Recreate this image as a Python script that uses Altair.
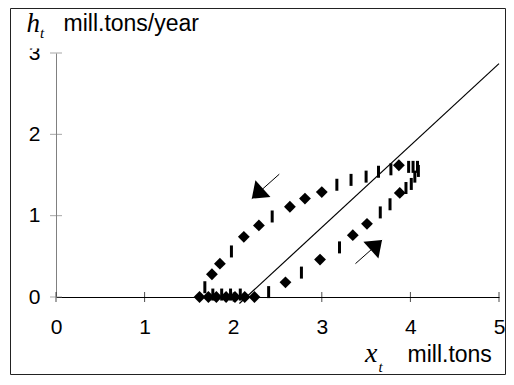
import altair as alt
import pandas as pd

# ---- data ----
diamond_x = [1.62, 1.72, 1.81, 1.92, 2.02, 2.13, 2.24, 2.59, 2.98, 3.35, 3.51, 3.88,
             3.87, 3.00, 2.81, 2.64, 2.29, 2.12, 1.85, 1.76]
diamond_y = [0.00, 0.00, 0.00, 0.00, 0.00, 0.00, 0.00, 0.18, 0.46, 0.76, 0.90, 1.28,
             1.62, 1.29, 1.21, 1.11, 0.88, 0.74, 0.41, 0.28]

dash_x = [1.68, 1.77, 1.87, 1.97, 2.08, 2.40, 2.77, 3.20, 3.66, 3.77, 3.95, 4.01, 4.05,
          4.09, 4.08, 4.03, 3.98, 3.78, 3.64, 3.50, 3.33, 3.17, 2.44, 1.98]
dash_y = [0.12, 0.03, 0.03, 0.03, 0.03, 0.06, 0.30, 0.61, 1.04, 1.14, 1.34, 1.39, 1.48,
          1.55, 1.60, 1.60, 1.60, 1.57, 1.54, 1.48, 1.44, 1.38, 0.99, 0.56]

line_x = [2.07, 5.00]
line_y = [-0.08, 2.87]

arrow_tail_x = [3.38, 2.52]
arrow_tail_y = [0.41, 1.51]
arrow_tip_x = [3.68, 2.21]
arrow_tip_y = [0.70, 1.21]
arrow_angle = [48, 228]

x_ticks = [0, 1, 2, 3, 4, 5]
y_ticks = [0, 1, 2, 3]

# ---- chart ----
W, H = 443, 244
SANS = "Liberation Sans"
SERIF = "Liberation Serif"

xs = alt.Scale(domain=[0, 5], nice=False, zero=False)
ys = alt.Scale(domain=[0, 3], nice=False, zero=False)

x_axis = alt.Axis(values=x_ticks, ticks=False, tickSize=0, grid=False, domainColor="black",
                  domainWidth=1, labelFont=SANS, labelFontSize=21, labelColor="black",
                  labelPadding=19, labelFlush=False, title=None, format="d")
y_axis = alt.Axis(values=y_ticks, ticks=False, tickSize=0, grid=False, domainColor="#808080",
                  domainWidth=1, labelFont=SANS, labelFontSize=21, labelColor="black",
                  labelPadding=16, labelFlush=False, title=None, format="d")

one = pd.DataFrame({"a": [0]})

border = alt.Chart(one).mark_rect(fillOpacity=0, stroke="#222222", strokeWidth=1).encode(
    x=alt.value(-45.5), x2=alt.value(449.5), y=alt.value(-44.5), y2=alt.value(321.5)
)

# white patch imitating the clipped top of the "3" label in the reference
label_clip = alt.Chart(one).mark_rect(color="white").encode(
    x=alt.value(-30), x2=alt.value(-12), y=alt.value(-13), y2=alt.value(-4.5)
)

line_df = pd.DataFrame({"x": line_x, "y": line_y})
line = alt.Chart(line_df).mark_line(color="black", strokeWidth=1.2).encode(
    x=alt.X("x:Q", scale=xs, axis=x_axis),
    y=alt.Y("y:Q", scale=ys, axis=y_axis),
)

xt = alt.Chart(pd.DataFrame({"v": x_ticks})).mark_tick(
    orient="vertical", size=10, thickness=1, color="black"
).encode(x=alt.X("v:Q", scale=xs), y=alt.datum(0, scale=ys))

yt = alt.Chart(pd.DataFrame({"v": y_ticks})).mark_tick(
    orient="horizontal", size=12, thickness=1, color="#808080"
).encode(y=alt.Y("v:Q", scale=ys), x=alt.datum(0, scale=xs))

dia = alt.Chart(pd.DataFrame({"x": diamond_x, "y": diamond_y})).mark_point(
    shape="diamond", filled=True, size=140, color="black", opacity=1
).encode(x=alt.X("x:Q", scale=xs), y=alt.Y("y:Q", scale=ys))

dash = alt.Chart(pd.DataFrame({"x": dash_x, "y": dash_y})).mark_tick(
    orient="vertical", size=12, thickness=3, color="black", opacity=1
).encode(x=alt.X("x:Q", scale=xs), y=alt.Y("y:Q", scale=ys))

arr_df = pd.DataFrame({"x": arrow_tail_x, "y": arrow_tail_y,
                       "x2": arrow_tip_x, "y2": arrow_tip_y, "ang": arrow_angle})
arr_line = alt.Chart(arr_df).mark_rule(color="black", strokeWidth=1).encode(
    x=alt.X("x:Q", scale=xs), y=alt.Y("y:Q", scale=ys), x2="x2:Q", y2="y2:Q"
)
heads = []
for i in range(len(arrow_tip_x)):
    h = alt.Chart(pd.DataFrame({"x": [arrow_tip_x[i]], "y": [arrow_tip_y[i]]})).mark_point(
        shape="M0,0L0.75,1L-0.75,1Z", filled=True, size=900, color="black", opacity=1,
        angle=arrow_angle[i]
    ).encode(x=alt.X("x:Q", scale=xs), y=alt.Y("y:Q", scale=ys))
    heads.append(h)

def txt(s, x, y, size, font, italic=False):
    kw = dict(align="left", baseline="alphabetic", font=font, fontSize=size, color="black")
    if italic:
        kw["fontStyle"] = "italic"
    return alt.Chart(one).mark_text(**kw).encode(
        x=alt.value(x), y=alt.value(y), text=alt.value(s)
    )

texts = [
    txt("h", -29.5, -21, 27, SERIF, True),
    txt("t", -16, -15, 15, SERIF, True),
    txt("mill.tons/year", 7.5, -22, 23, SANS),
    txt("x", 309, 309, 28, SERIF, True),
    txt("t", 322.5, 319, 15, SERIF, True),
    txt("mill.tons", 351.5, 309, 23, SANS),
]

chart = alt.layer(border, line, xt, yt, arr_line, *heads, dash, dia, label_clip, *texts).properties(
    width=W, height=H,
    padding={"left": 48, "top": 45, "right": 7, "bottom": 78},
    autosize=alt.AutoSizeParams(type="none"),
    background="white",
).configure_view(stroke=None)

chart.save("out.html", embed_options={"renderer": "svg", "actions": False})
